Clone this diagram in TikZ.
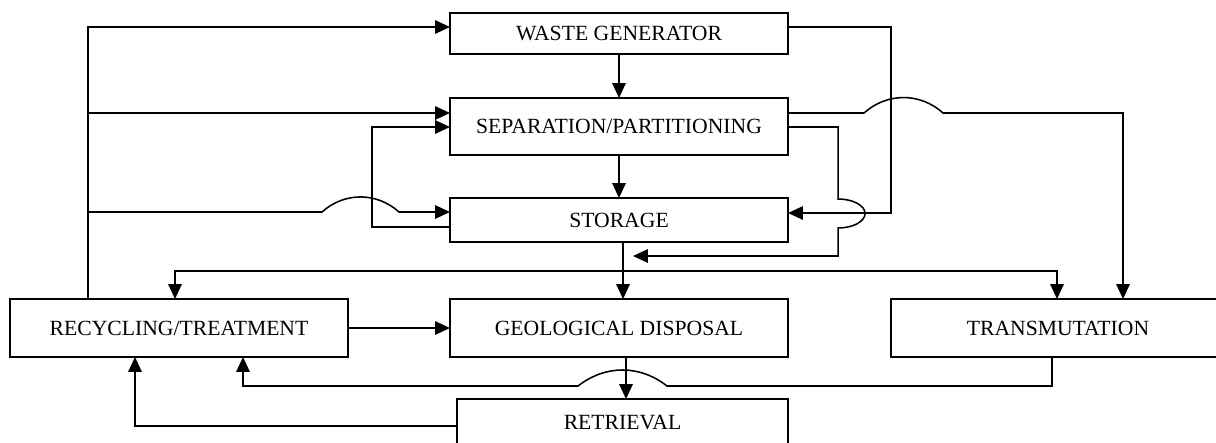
\documentclass[tikz,border=0pt]{standalone}
\usepackage{fontspec}
\setmainfont{Liberation Serif}
\usetikzlibrary{arrows.meta,calc}
\tikzset{
  box/.style={draw, line width=1.3pt, inner sep=0pt, outer sep=0pt, minimum width=8.45cm, font=\fontsize{15.4}{18}\selectfont},
  arr/.style={line width=1.1pt, -{Triangle[length=10.5pt,width=9.5pt]}},
}

\begin{document}
\begin{tikzpicture}[x=0.025cm, y=-0.025cm]
			%%%%% START %%%%%
			\useasboundingbox (0,0) rectangle (1216,442);
			
			\node[box, minimum width=8.45cm, minimum height=1.025cm] (waste) at (619, 33.5) {WASTE GENERATOR};
			\node[box, minimum height=1.425cm] (sep) at (619, 126.5) {SEPARATION/PARTITIONING};
			\node[box, minimum height=1.1cm] (stor) at (619, 220) {STORAGE};
			\node[box, minimum height=1.45cm] (geo) at (619, 328) {GEOLOGICAL DISPOSAL};
			\node[box, minimum height=1.45cm] (recyc) at (179, 328) {RECYCLING/TREATMENT};
			\node[box, minimum width=8.35cm, minimum height=1.45cm] (trans) at (1058, 328) {TRANSMUTATION};
			\node[box, minimum width=8.275cm, minimum height=1.2cm] (retr) at (622.5, 423) {RETRIEVAL};
			
			\coordinate (sepin1) at ($(sep.west)+(0,-13.5)$);
			\coordinate (sepin2) at ($(sep.west)+(0,0.5)$);
			\coordinate (storin) at ($(stor.west)+(0,-8)$);
			\coordinate (storback) at ($(stor.west)+(0,7)$);
			\coordinate (storin2) at ($(stor.east)+(0,-7)$);
			\coordinate (split) at ($(stor.south)+(4,29)$);
			\coordinate (merge) at ($(stor.south)+(14,14)$);
			\coordinate (leftbus) at ($(recyc.north)+(-91,0)$);
			
			% left bus
			\draw[arr] (leftbus) |- ($(waste.west)+(0,-6.5)$);
			\draw[arr] (leftbus |- sepin1) -- (sepin1);
			\draw[arr] (leftbus |- storin) -- ++(234,0) to[bend left=42] ++(77,0) -- (storin);
			\draw[arr] (storback) -- ++(-78,0) |- (sepin2);
			
			% main column
			\draw[arr] (waste.south) -- (waste.south |- sep.north);
			\draw[arr] (sep.south) -- (sep.south |- stor.north);
			\draw[arr] ($(stor.south)+(4,0)$) -- ($(geo.north)+(4,0)$);
			\draw[arr] (split) -| ($(recyc.north)+(-4,0)$);
			\draw[arr] (split) -| ($(trans.north)+(-1,0)$);
			\draw[arr] ($(geo.south)+(7,0)$) coordinate (g1) -- (g1 |- retr.north);
			
			% right side
			\draw[arr] ($(waste.east)+(0,-6.5)$) -- ++(103,0) |- (storin2);
			\draw[arr] ($(sep.east)+(0,0.5)$) -- ++(50,0) -- ++(0,72) arc[start angle=-90, end angle=90, x radius=27, y radius=14.5] |- (merge);
			\draw[arr] ($(sep.east)+(0,-13.5)$) -- ++(76,0) to[bend left=42] ++(79,0) -| ($(trans.north)+(65,0)$);
			
			% bottom
			\draw[arr] (recyc) -- (geo);
			\draw[arr] ($(trans.south)+(-6,0)$) -- ++(0,29) -- ++(-385,0) to[bend right=38] ++(-89,0) -| ($(recyc.south)+(64,0)$);
			\draw[arr] ($(retr.west)+(0,3)$) -| ($(recyc.south)+(-44,0)$);
			
			%%%%% END %%%%%
\end{tikzpicture}
\end{document}
